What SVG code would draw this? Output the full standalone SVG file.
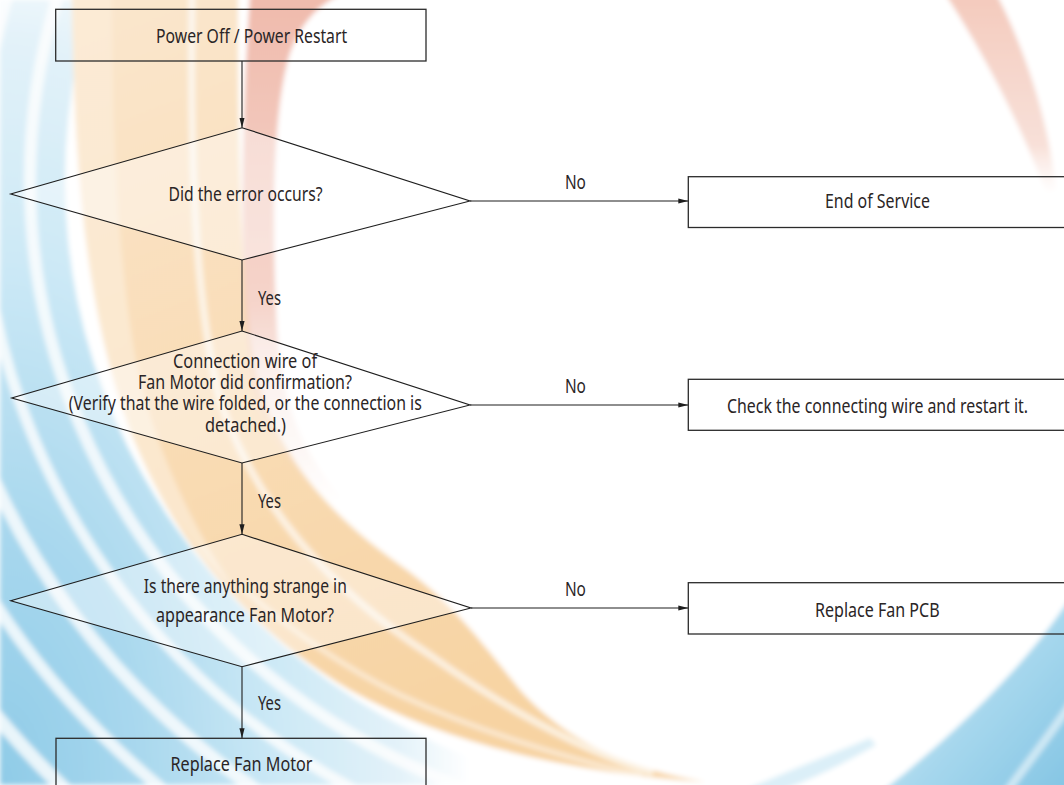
<svg xmlns="http://www.w3.org/2000/svg" width="1064" height="785" viewBox="0 0 1064 785">
  <defs>
    <style>
      .box { fill: none; stroke: #2b2b2b; stroke-width: 1.3; }
      .dec { fill: #ffffff; fill-opacity: 0.4; stroke: #1e1e1e; stroke-width: 1.1; }
      .t { font-family: "Noto Sans", "Open Sans", sans-serif; font-size: 20.5px; fill: #2a2526; text-anchor: middle; }
      .t2 { font-size: 20px; }
      .yn { font-family: "Noto Sans", "Open Sans", sans-serif; font-size: 19px; fill: #2a2526; text-anchor: middle; }
      .link { fill: none; stroke: #1e1e1e; stroke-width: 1.1; marker-end: url(#arrow); }
      .gap { fill: none; stroke: #ffffff; stroke-linecap: round; }
    </style>
    <marker id="arrow" markerUnits="userSpaceOnUse" markerWidth="11" markerHeight="6" refX="10" refY="2.6" orient="auto">
      <path d="M0,0 L10,2.6 L0,5.2 Z" fill="#1e1e1e"/>
    </marker>
    <filter id="soft" x="-5%" y="-5%" width="110%" height="110%">
      <feGaussianBlur stdDeviation="2.5"/>
    </filter>
    <radialGradient id="blueWash" gradientUnits="userSpaceOnUse" cx="0" cy="0" r="1" gradientTransform="matrix(470 0 0 880 0 785)">
      <stop offset="0" stop-color="#8fcbe7"/>
      <stop offset="0.3" stop-color="#a9d8ee"/>
      <stop offset="0.6" stop-color="#cde9f6"/>
      <stop offset="0.85" stop-color="#e3f2f9"/>
      <stop offset="1" stop-color="#ffffff"/>
    </radialGradient>
    <linearGradient id="orangeWash" gradientUnits="userSpaceOnUse" x1="0" y1="0" x2="300" y2="785">
      <stop offset="0" stop-color="#fae7cf"/>
      <stop offset="0.55" stop-color="#f9dcb5"/>
      <stop offset="1" stop-color="#f7d3a2"/>
    </linearGradient>
    <linearGradient id="redLeft" gradientUnits="userSpaceOnUse" x1="0" y1="0" x2="0" y2="505">
      <stop offset="0" stop-color="#efb7a8" stop-opacity="0.95"/>
      <stop offset="0.6" stop-color="#f2c6b9" stop-opacity="0.75"/>
      <stop offset="1" stop-color="#f6dcd3" stop-opacity="0"/>
    </linearGradient>
    <linearGradient id="redRight" gradientUnits="userSpaceOnUse" x1="0" y1="0" x2="0" y2="195">
      <stop offset="0" stop-color="#f3c8ba" stop-opacity="0.95"/>
      <stop offset="0.75" stop-color="#f5d3c8" stop-opacity="0.7"/>
      <stop offset="1" stop-color="#f8e3dc" stop-opacity="0"/>
    </linearGradient>
    <linearGradient id="blueRight" gradientUnits="userSpaceOnUse" x1="900" y1="640" x2="1064" y2="785">
      <stop offset="0" stop-color="#d6edf7"/>
      <stop offset="0.5" stop-color="#a6d7ed"/>
      <stop offset="1" stop-color="#86c6e4"/>
    </linearGradient>
    <clipPath id="leftHalf">
      <rect x="0" y="0" width="600" height="785"/>
    </clipPath>
  </defs>

  <!-- backdrop swirl -->
  <g id="backdrop" filter="url(#soft)">
    <rect x="0" y="0" width="1064" height="785" fill="#ffffff"/>
    <!-- blue wash on the left, outside the orange sweep -->
    <path fill="url(#blueWash)" fill-rule="evenodd"
          d="M0,0 H1064 V785 H0 Z M65,180 A655 625 0 1 0 1375,180 A655 625 0 1 0 65,180 Z"/>
    <g clip-path="url(#leftHalf)" opacity="0.8">
      <ellipse class="gap" cx="720" cy="180" rx="690" ry="655" stroke-width="12"/>
      <ellipse class="gap" cx="720" cy="180" rx="738" ry="702" stroke-width="11"/>
      <ellipse class="gap" cx="720" cy="180" rx="792" ry="752" stroke-width="13"/>
      <ellipse class="gap" cx="720" cy="180" rx="852" ry="806" stroke-width="12"/>
      <ellipse class="gap" cx="720" cy="180" rx="920" ry="868" stroke-width="14"/>
      <ellipse class="gap" cx="720" cy="180" rx="996" ry="938" stroke-width="13"/>
    </g>
    <!-- orange sweep -->
    <path fill="url(#orangeWash)"
          d="M72,-5 C74,150 82,300 130,430 C175,545 250,630 350,690 C440,740 560,772 705,782
             C620,768 560,735 520,690 C480,640 450,600 400,565 C330,515 280,460 258,380 C240,300 238,150 238,-5 Z"/>
    <path fill="#fcecd9" opacity="0.7"
          d="M72,-5 C74,150 82,300 130,430 C155,495 190,545 235,590 C195,530 160,460 140,380 C118,280 112,130 112,-5 Z"/>
    <path class="gap" stroke-width="7" opacity="0.65"
          d="M192,-5 C190,150 194,300 220,400 C255,505 330,590 430,655 C500,705 575,748 650,772"/>
    <path class="gap" stroke-width="5" opacity="0.5"
          d="M245,590 C290,630 340,665 400,695 C470,728 560,757 640,775"/>
    <!-- red sweep -->
    <path fill="url(#redLeft)"
          d="M250,-5 C243,100 238,250 250,380 C262,440 300,480 335,505 L342,498 C305,455 282,410 277,330 C272,230 272,120 288,60 C298,25 318,5 340,-5 Z"/>
    <path fill="url(#redRight)"
          d="M946,-5 C975,40 1015,110 1046,192 L1056,190 C1050,130 1030,60 997,-5 Z"/>
    <!-- blue sweep, lower right -->
    <path fill="url(#blueRight)"
          d="M1070,598 C1030,660 962,728 884,790 L1070,790 Z"/>
    <path class="gap" stroke-width="8" opacity="0.55" d="M1070,705 C1050,735 1030,760 1008,790"/>
    <path fill="#d5ecf7" opacity="0.85"
          d="M745,790 C790,770 830,755 870,738 L876,745 C842,765 805,782 782,790 Z"/>
  </g>

  <!-- connectors -->
  <g id="connectors">
    <path class="link" d="M242,61 V127.7"/>
    <path class="link" d="M242,260 V331"/>
    <path class="link" d="M242,463 V534.3"/>
    <path class="link" d="M242,666.7 V738.3"/>
    <path class="link" d="M470,201 H688.3"/>
    <path class="link" d="M470,405 H688.3"/>
    <path class="link" d="M471,608 H688.3"/>
    <text class="yn" x="575.4" y="189.3" textLength="21" lengthAdjust="spacingAndGlyphs">No</text>
    <text class="yn" x="575.4" y="393" textLength="21" lengthAdjust="spacingAndGlyphs">No</text>
    <text class="yn" x="575.4" y="596" textLength="21" lengthAdjust="spacingAndGlyphs">No</text>
    <text class="yn" x="269.5" y="305" textLength="23" lengthAdjust="spacingAndGlyphs">Yes</text>
    <text class="yn" x="269.5" y="508" textLength="23" lengthAdjust="spacingAndGlyphs">Yes</text>
    <text class="yn" x="269.5" y="710" textLength="23" lengthAdjust="spacingAndGlyphs">Yes</text>
  </g>

  <!-- nodes -->
  <g id="power-restart">
    <rect class="box" x="55.7" y="9.3" width="370.3" height="51.7"/>
    <text class="t" x="251.6" y="43.3" textLength="191" lengthAdjust="spacingAndGlyphs">Power Off / Power Restart</text>
  </g>

  <g id="error-occurs">
    <polygon class="dec" points="242,127.7 470,201 242,260 10.7,194"/>
    <text class="t" x="245.5" y="201" font-size="22" textLength="154" lengthAdjust="spacingAndGlyphs">Did the error occurs?</text>
  </g>

  <g id="end-of-service">
    <rect class="box" x="688.3" y="176.7" width="400" height="50.8"/>
    <text class="t" x="877.5" y="208.3" textLength="105" lengthAdjust="spacingAndGlyphs">End of Service</text>
  </g>

  <g id="wire-check">
    <polygon class="dec" points="242,331 470,405 242,463 11.7,398"/>
    <text class="t t2" x="245" y="368" textLength="144" lengthAdjust="spacingAndGlyphs">Connection wire of</text>
    <text class="t t2" x="245" y="389" textLength="214" lengthAdjust="spacingAndGlyphs">Fan Motor did confirmation?</text>
    <text class="t t2" x="245.3" y="410" textLength="353" lengthAdjust="spacingAndGlyphs">(Verify that the wire folded, or the connection is</text>
    <text class="t t2" x="245.5" y="431.5" textLength="81" lengthAdjust="spacingAndGlyphs">detached.)</text>
  </g>

  <g id="restart-wire">
    <rect class="box" x="688.3" y="379.3" width="400" height="51"/>
    <text class="t" x="877.5" y="412.7" textLength="301" lengthAdjust="spacingAndGlyphs">Check the connecting wire and restart it.</text>
  </g>

  <g id="appearance-check">
    <polygon class="dec" points="242,534.3 471,608 242,666.7 10.7,600.7"/>
    <text class="t" x="245.3" y="592.7" textLength="203" lengthAdjust="spacingAndGlyphs">Is there anything strange in</text>
    <text class="t" x="245" y="621.5" textLength="178" lengthAdjust="spacingAndGlyphs">appearance Fan Motor?</text>
  </g>

  <g id="replace-pcb">
    <rect class="box" x="688.3" y="582.7" width="400" height="51.3"/>
    <text class="t" x="877.3" y="617" textLength="124.6" lengthAdjust="spacingAndGlyphs">Replace Fan PCB</text>
  </g>

  <g id="replace-motor">
    <rect class="box" x="56" y="738.3" width="370" height="51.5"/>
    <text class="t" x="241.5" y="770.7" textLength="142" lengthAdjust="spacingAndGlyphs">Replace Fan Motor</text>
  </g>
</svg>
